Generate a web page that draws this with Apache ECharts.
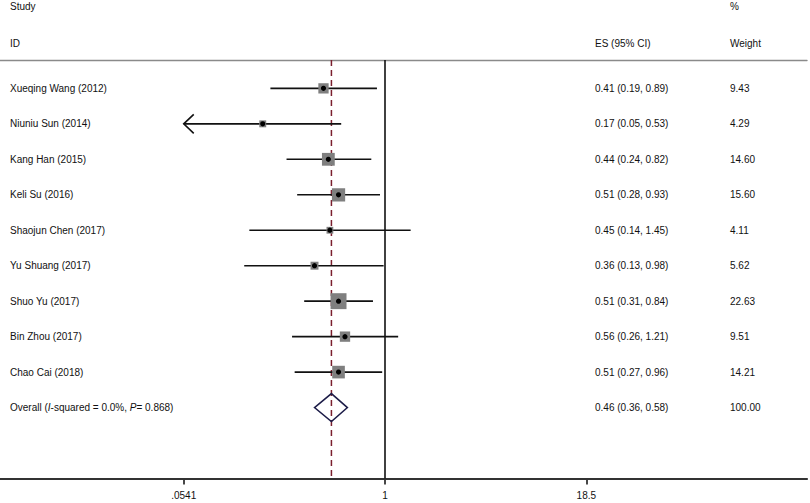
<!DOCTYPE html>
<html>
<head>
<meta charset="utf-8">
<script src="https://cdn.jsdelivr.net/npm/echarts@6/dist/echarts.min.js"></script>
<style>
html,body{margin:0;padding:0;background:#fff;}
#chart{width:810px;height:503px;}
</style>
</head>
<body>
<div id="chart"></div>
<script>
// ---- data ----
var studies = ["Xueqing Wang (2012)", "Niuniu Sun (2014)", "Kang Han (2015)", "Keli Su (2016)", "Shaojun Chen (2017)", "Yu Shuang (2017)", "Shuo Yu (2017)", "Bin Zhou (2017)", "Chao Cai (2018)"];
var es     = [0.41, 0.17, 0.44, 0.51, 0.45, 0.36, 0.51, 0.56, 0.51];
var ciLow  = [0.19, 0.05, 0.24, 0.28, 0.14, 0.13, 0.31, 0.26, 0.27];
var ciHigh = [0.89, 0.53, 0.82, 0.93, 1.45, 0.98, 0.84, 1.21, 0.96];
var weights = [9.43, 4.29, 14.60, 15.60, 4.11, 5.62, 22.63, 9.51, 14.21];
var overall = {es: 0.46, lo: 0.36, hi: 0.58, weight: 100.00};
var tickValues = [0.0541, 1, 18.5];
var tickLabels = [".0541", "1", "18.5"];

var FONT = '"Liberation Sans", Arial, Helvetica, sans-serif';
var LN = Math.log;
var clipLow = tickValues[0], clipHigh = tickValues[2];

function fmt(v){ return v.toFixed(2); }

var rowData = studies.map(function(s, i){
  return [i, LN(es[i]), LN(ciLow[i]), LN(ciHigh[i]), weights[i]];
});

var chart = echarts.init(document.getElementById('chart'), null, {renderer: 'svg'});

var textStyleBase = {fontFamily: FONT, fontSize: 10, fill: '#111'};

function txt(x, y, str, extra){
  var st = Object.assign({}, textStyleBase, {text: str, x: x, y: y, verticalAlign: 'middle', align: 'left'}, extra || {});
  return {type: 'text', style: st, silent: true};
}

var option = {
  animation: false,
  backgroundColor: '#fff',
  grid: {left: 0, right: 3, top: 60, bottom: 24.5, containLabel: false},
  xAxis: [{
    type: 'value',
    min: -385/69, max: (807-385)/69,
    position: 'bottom',
    axisLine: {show: true, onZero: false, lineStyle: {color: '#333', width: 2.2}},
    axisTick: {show: true, length: 6, lineStyle: {color: '#333', width: 1.8},
      customValues: tickValues.map(function(v){ return LN(v); })},
    axisLabel: {show: true, margin: 12, color: '#111', fontFamily: FONT, fontSize: 10,
      customValues: tickValues.map(function(v){ return LN(v); }),
      formatter: function(val){
        var best = 0, d = Infinity;
        tickValues.forEach(function(t, k){ var dd = Math.abs(LN(t) - val); if (dd < d){ d = dd; best = k; } });
        return tickLabels[best];
      }},
    splitLine: {show: false}
  }, {
    type: 'value',
    min: -385/69, max: (807-385)/69,
    position: 'top',
    axisLine: {show: true, onZero: false, lineStyle: {color: '#8a8a8a', width: 1.4}},
    axisTick: {show: false}, axisLabel: {show: false}, splitLine: {show: false}
  }],
  yAxis: {
    type: 'value', min: -0.8, max: 11, inverse: true, show: false,
    splitLine: {show: false}
  },
  series: [
    // reference lines: null line at 1 and dashed overall estimate
    {
      type: 'custom', z: 1,
      data: [[LN(1), 0], [LN(overall.es), 1]],
      renderItem: function(params, api){
        var x = api.value(0), kind = api.value(1);
        var p1 = api.coord([x, -0.8]), p2 = api.coord([x, 11]);
        return {type: 'line', shape: {x1: p1[0], y1: p1[1], x2: p2[0], y2: p2[1]},
          style: kind === 0 ? {stroke: '#111', lineWidth: 1.6} : {stroke: '#7b1f2e', lineWidth: 1.5, lineDash: [6, 4]}};
      }
    },
    // study rows
    {
      type: 'custom', z: 3,
      data: rowData,
      renderItem: function(params, api){
        var i = api.value(0);
        var e = api.value(1), l = api.value(2), h = api.value(3), w = api.value(4);
        var lClip = Math.max(l, LN(clipLow)), hClip = Math.min(h, LN(clipHigh));
        var pc = api.coord([e, i]);
        var pl = api.coord([lClip, i]);
        var ph = api.coord([hClip, i]);
        var y = pc[1];
        var side = 3.35 * Math.sqrt(w);
        var children = [];
        children.push({type: 'line', shape: {x1: pl[0], y1: y, x2: ph[0], y2: y}, style: {stroke: '#111', lineWidth: 1.6}});
        if (l < LN(clipLow)) {
          children.push({type: 'polyline', shape: {points: [[pl[0] + 10, y - 9.5], [pl[0], y], [pl[0] + 10, y + 9.5]]}, style: {stroke: '#111', lineWidth: 1.6, fill: null}});
        }
        children.push({type: 'rect', shape: {x: pc[0] - side/2, y: y - side/2, width: side, height: side}, style: {fill: '#7f7f7f'}});
        children.push({type: 'circle', shape: {cx: pc[0], cy: y, r: 2.6}, style: {fill: '#000'}});
        var idx = params.dataIndex;
        children.push(txt(10, y, studies[idx]));
        children.push(txt(595, y, fmt(es[idx]) + ' (' + fmt(ciLow[idx]) + ', ' + fmt(ciHigh[idx]) + ')'));
        children.push(txt(730, y, fmt(weights[idx])));
        return {type: 'group', children: children};
      }
    },
    // overall diamond
    {
      type: 'custom', z: 3,
      data: [[9, LN(overall.es), LN(overall.lo), LN(overall.hi), overall.weight]],
      renderItem: function(params, api){
        var r = api.value(0);
        var pc = api.coord([api.value(1), r]);
        var pl = api.coord([api.value(2), r]);
        var ph = api.coord([api.value(3), r]);
        var y = pc[1];
        return {type: 'group', children: [
          {type: 'polygon', shape: {points: [[pl[0], y], [pc[0], y - 14], [ph[0], y], [pc[0], y + 14]]},
            style: {stroke: '#1c1c48', lineWidth: 1.5, fill: null}},
          {type: 'text', style: {x: 10, y: y, verticalAlign: 'middle', align: 'left', fontFamily: FONT, fontSize: 10, fill: '#111',
            text: 'Overall ({i|I}-squared = 0.0%, {i|P}= 0.868)',
            rich: {i: {fontStyle: 'italic', fontFamily: FONT, fontSize: 10, fill: '#111'}}}},
          txt(595, y, fmt(overall.es) + ' (' + fmt(overall.lo) + ', ' + fmt(overall.hi) + ')'),
          txt(730, y, fmt(overall.weight))
        ]};
      }
    }
  ],
  graphic: [
    {type: 'text', left: 10, top: 1, style: {text: 'Study', fontFamily: FONT, fontSize: 10, fill: '#111'}},
    {type: 'text', left: 10, top: 38, style: {text: 'ID', fontFamily: FONT, fontSize: 10, fill: '#111'}},
    {type: 'text', left: 595, top: 38, style: {text: 'ES (95% CI)', fontFamily: FONT, fontSize: 10, fill: '#111'}},
    {type: 'text', left: 730, top: 1, style: {text: '%', fontFamily: FONT, fontSize: 10, fill: '#111'}},
    {type: 'text', left: 730, top: 38, style: {text: 'Weight', fontFamily: FONT, fontSize: 10, fill: '#111'}}
  ]
};
chart.setOption(option);
</script>
</body>
</html>
